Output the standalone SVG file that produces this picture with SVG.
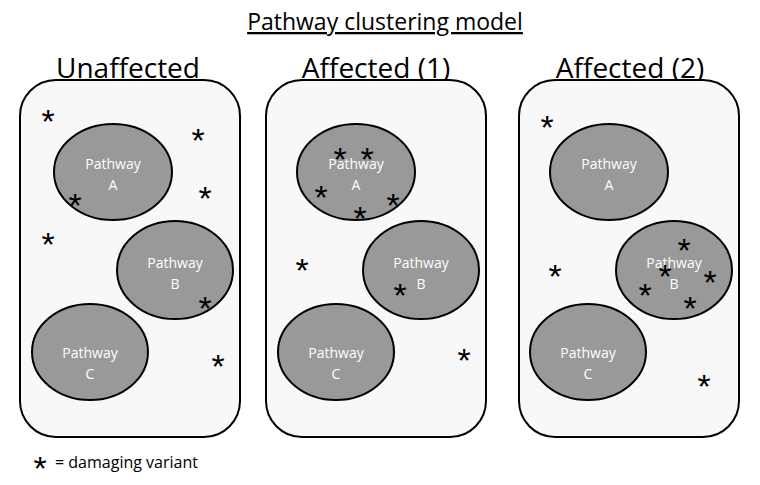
<svg xmlns="http://www.w3.org/2000/svg" width="760" height="485" viewBox="0 0 760 485">
<style>
text{font-family:"Open Sans","Liberation Sans",sans-serif}
.box{fill:#f8f8f8;stroke:#000;stroke-width:2}
.pw{fill:#999;stroke:#000;stroke-width:2}
.pl{fill:#fff;font-size:14px;text-anchor:middle}
.h{font-size:28px;text-anchor:middle;fill:#000}
.s{font-family:"Liberation Sans",sans-serif;font-size:34px;text-anchor:middle;fill:#000}
</style>
<rect width="760" height="485" fill="#fff"/>
<text x="385" y="30" font-size="23" text-anchor="middle" text-decoration="underline">Pathway clustering model</text>
<text class="h" x="128" y="78">Unaffected</text>
<text class="h" x="376" y="78">Affected (1)</text>
<text class="h" x="630" y="78">Affected (2)</text>
<g id="panel1">
<rect class="box" x="20" y="80" width="220" height="357" rx="36"/>
<g id="p1A"><ellipse class="pw" cx="113" cy="172" rx="59" ry="48"/><text class="pl" x="113" y="169">Pathway</text><text class="pl" x="113" y="190">A</text></g>
<g id="p1B"><ellipse class="pw" cx="175" cy="270" rx="58" ry="49"/><text class="pl" x="175" y="268">Pathway</text><text class="pl" x="175" y="289">B</text></g>
<g id="p1C"><ellipse class="pw" cx="90" cy="352" rx="58" ry="48"/><text class="pl" x="90" y="358">Pathway</text><text class="pl" x="90" y="379">C</text></g>
</g>
<g id="panel2">
<rect class="box" x="266" y="80" width="220" height="357" rx="36"/>
<g id="p2A"><ellipse class="pw" cx="356" cy="172" rx="59" ry="48"/><text class="pl" x="356" y="169">Pathway</text><text class="pl" x="356" y="190">A</text></g>
<g id="p2B"><ellipse class="pw" cx="421" cy="270" rx="58" ry="49"/><text class="pl" x="421" y="268">Pathway</text><text class="pl" x="421" y="289">B</text></g>
<g id="p2C"><ellipse class="pw" cx="336" cy="352" rx="58" ry="48"/><text class="pl" x="336" y="358">Pathway</text><text class="pl" x="336" y="379">C</text></g>
</g>
<g id="panel3">
<rect class="box" x="519" y="80" width="220" height="357" rx="36"/>
<g id="p3A"><ellipse class="pw" cx="609" cy="172" rx="59" ry="48"/><text class="pl" x="609" y="169">Pathway</text><text class="pl" x="609" y="190">A</text></g>
<g id="p3B"><ellipse class="pw" cx="674" cy="270" rx="58" ry="49"/><text class="pl" x="674" y="268">Pathway</text><text class="pl" x="674" y="289">B</text></g>
<g id="p3C"><ellipse class="pw" cx="588" cy="352" rx="58" ry="48"/><text class="pl" x="588" y="358">Pathway</text><text class="pl" x="588" y="379">C</text></g>
</g>
<g id="variants">
<text class="s" x="48" y="133">*</text><text class="s" x="198" y="152">*</text><text class="s" x="205" y="210">*</text><text class="s" x="75" y="217">*</text><text class="s" x="48" y="256">*</text><text class="s" x="205" y="320">*</text><text class="s" x="218" y="378">*</text>
<text class="s" x="340" y="171">*</text><text class="s" x="367" y="171">*</text><text class="s" x="321" y="209">*</text><text class="s" x="360" y="230">*</text><text class="s" x="393" y="217">*</text><text class="s" x="302" y="282">*</text><text class="s" x="400" y="307">*</text><text class="s" x="464" y="372">*</text>
<text class="s" x="547" y="139">*</text><text class="s" x="684" y="262">*</text><text class="s" x="665" y="288">*</text><text class="s" x="710" y="294">*</text><text class="s" x="645" y="307">*</text><text class="s" x="690" y="320">*</text><text class="s" x="555" y="288">*</text><text class="s" x="704" y="398">*</text>
</g>
<g id="legend">
<text class="s" x="40" y="480">*</text>
<text x="55" y="468" font-size="16">= damaging variant</text>
</g>
</svg>
